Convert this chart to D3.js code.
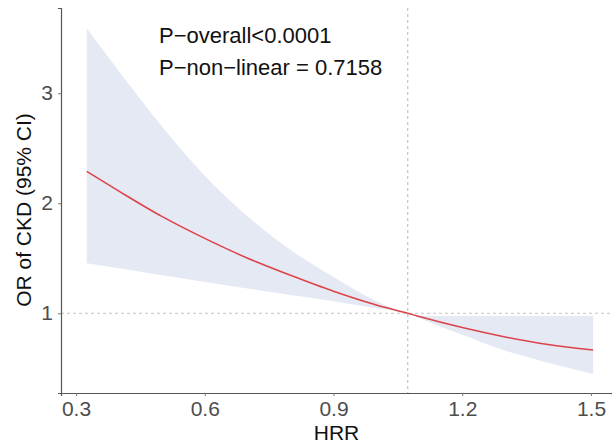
<!DOCTYPE html>
<html>
<head>
<meta charset="utf-8">
<script src="https://cdn.jsdelivr.net/npm/d3@7"></script>
<style>
  html, body { margin: 0; padding: 0; background: #fff; }
  svg { display: block; font-family: "Liberation Sans", Arial, sans-serif; }
</style>
</head>
<body>
<div id="chart"></div>
<script>
const hrr = [0.325, 0.4, 0.5, 0.6, 0.7, 0.8, 0.9, 1.0, 1.073, 1.1, 1.2, 1.3, 1.4, 1.505];
// odds ratio and 95% CI
const orValue = [2.29, 2.11, 1.88, 1.68, 1.50, 1.345, 1.20, 1.075, 1.0, 0.97, 0.87, 0.785, 0.715, 0.665];
const ciLower = [1.455, 1.41, 1.345, 1.285, 1.225, 1.165, 1.11, 1.045, 1.0, 0.955, 0.805, 0.66, 0.55, 0.448];
const ciUpper = [3.59, 3.20, 2.70, 2.25, 1.88, 1.575, 1.33, 1.11, 1.0, 0.98, 0.975, 0.975, 0.975, 0.975];

const xTicks = [0.3, 0.6, 0.9, 1.2, 1.5];
const yTicks = [1, 2, 3];
const refHRR = 1.073;
const refOR = 1;
const annotations = ['P\u2212overall<0.0001', 'P\u2212non\u2212linear = 0.7158'];

const W = 612, H = 447;
const plot = { left: 61, right: 612, top: 8, bottom: 393 };

const data = hrr.map((h, i) => ({ x: h, y: orValue[i], lo: ciLower[i], hi: ciUpper[i] }));

const svg = d3.select('#chart').append('svg')
  .attr('width', W)
  .attr('height', H);

const x = d3.scaleLinear().domain([0.265, 1.549]).range([plot.left, plot.right]);
const y = d3.scaleLinear().domain([0.275, 3.775]).range([plot.bottom, plot.top]);

// confidence band
svg.append('path')
  .datum(data)
  .attr('fill', '#e5e9f3')
  .attr('d', d3.area()
    .x(d => x(d.x))
    .y0(d => y(d.lo))
    .y1(d => y(d.hi))
    .curve(d3.curveMonotoneX));

// reference lines
svg.append('line')
  .attr('x1', x(refHRR)).attr('x2', x(refHRR))
  .attr('y1', plot.top).attr('y2', plot.bottom)
  .attr('stroke', '#c4c4c4').attr('stroke-width', 1.2)
  .attr('stroke-dasharray', '3,3');

svg.append('line')
  .attr('x1', plot.left).attr('x2', plot.right)
  .attr('y1', y(refOR)).attr('y2', y(refOR))
  .attr('stroke', '#c4c4c4').attr('stroke-width', 1.2)
  .attr('stroke-dasharray', '3,3');

// OR curve
svg.append('path')
  .datum(data)
  .attr('fill', 'none')
  .attr('stroke', '#dc4249')
  .attr('stroke-width', 1.5)
  .attr('d', d3.line()
    .x(d => x(d.x))
    .y(d => y(d.y))
    .curve(d3.curveMonotoneX));

// axes
const xAxis = svg.append('g')
  .attr('transform', `translate(0,${plot.bottom})`)
  .call(d3.axisBottom(x).tickValues(xTicks).tickFormat(d3.format('.1f')).tickSizeOuter(0).tickSize(3).tickPadding(5));

const yAxis = svg.append('g')
  .attr('transform', `translate(${plot.left},0)`)
  .call(d3.axisLeft(y).tickValues(yTicks).tickFormat(d3.format('d')).tickSizeOuter(0).tickSize(3).tickPadding(5));

[xAxis, yAxis].forEach(g => {
  g.select('.domain').attr('stroke', '#555').attr('stroke-width', 1.2);
  g.selectAll('.tick line').attr('stroke', '#777');
  g.selectAll('.tick text')
    .attr('fill', '#4d4d4d')
    .style('font-size', '21px')
    .style('font-family', '"Liberation Sans", Arial, sans-serif');
});

// axis titles
svg.append('text')
  .attr('x', (plot.left + plot.right) / 2)
  .attr('y', 440)
  .attr('text-anchor', 'middle')
  .attr('fill', '#111')
  .style('font-size', '21px')
  .text('HRR');

svg.append('text')
  .attr('transform', `translate(31,${210}) rotate(-90)`)
  .attr('text-anchor', 'middle')
  .attr('fill', '#111')
  .style('font-size', '21px')
  .text('OR of CKD (95% CI)');

// P values
svg.selectAll('.pval')
  .data(annotations)
  .enter()
  .append('text')
  .attr('class', 'pval')
  .attr('x', 159)
  .attr('y', (d, i) => 43 + i * 32)
  .attr('fill', '#111')
  .style('font-size', '22px')
  .text(d => d);
</script>
</body>
</html>
